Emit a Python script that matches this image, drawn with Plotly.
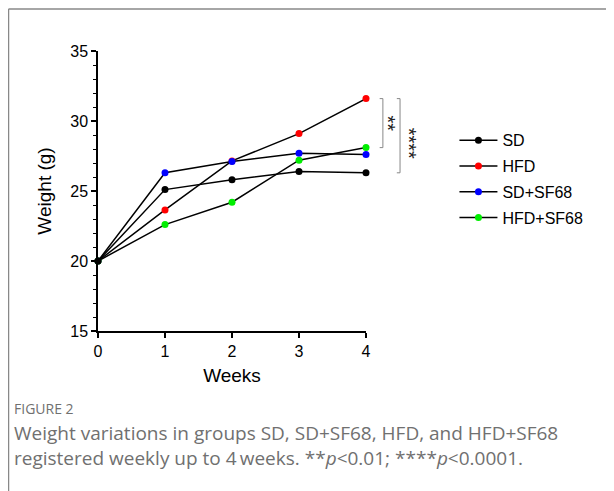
import plotly.graph_objects as go

weeks = [0, 1, 2, 3, 4]
series_names = ["SD", "HFD", "SD+SF68", "HFD+SF68"]
sd = [20, 25.1, 25.8, 26.4, 26.3]
hfd = [20, 23.65, 27.15, 29.1, 31.6]
sd_sf68 = [20, 26.3, 27.1, 27.7, 27.6]
hfd_sf68 = [20, 22.6, 24.2, 27.2, 28.1]
colors = ["#000000", "#ff0000", "#0000ff", "#00ee00"]

y_range = [15, 35]
brackets = [("**", 31.6, 28.1), ("****", 31.6, 26.3)]

W, H = 606, 483
L, T, PW, PH = 90, 43, 268, 280

fig = go.Figure()
data = [sd, hfd, sd_sf68, hfd_sf68]
order = [1, 2, 3, 0]  # draw SD last so the shared start point is black
for i in order:
    fig.add_trace(go.Scatter(
        x=weeks, y=data[i], name=series_names[i], mode="lines+markers",
        line=dict(color="black", width=1.5),
        marker=dict(color=colors[i], size=7),
        legendrank=i + 1, legendgroup=series_names[i],
        cliponaxis=False,
    ))

def px_x(p):
    return (p - L) / PW

def px_y(p):
    return (T + PH - p) / PH

fig.update_layout(
    width=W, height=H,
    margin=dict(l=L, r=W - L - PW, t=T, b=H - T - PH),
    paper_bgcolor="white", plot_bgcolor="white",
    font=dict(family="Liberation Sans, Arial", color="black", size=16),
    showlegend=True,
    legend=dict(x=1.33, y=0.742, xanchor="left", yanchor="top",
                font=dict(size=16), tracegroupgap=2, itemwidth=38,
                bgcolor="rgba(0,0,0,0)"),
    xaxis=dict(range=[0, 4], tickvals=weeks, showline=True, linecolor="black",
               linewidth=1.5, ticks="outside", ticklen=5, tickwidth=1.5,
               tickcolor="black", showgrid=False, zeroline=False,
               title=dict(text="Weeks", standoff=10), tickfont=dict(size=16)),
    yaxis=dict(range=y_range, dtick=5, showline=True, linecolor="black",
               linewidth=1.5, ticks="outside", ticklen=5, tickwidth=1.5,
               tickcolor="black", showgrid=False, zeroline=False,
               minor=dict(dtick=1, ticks="outside", ticklen=3, tickwidth=1,
                          tickcolor="black"),
               title=dict(text="Weight (g)", standoff=14), tickfont=dict(size=16)),
)

def py(v):
    return (v - y_range[0]) / (y_range[1] - y_range[0])

bx = [1.063, 1.127]
tx = [1.129, 1.207]
for (label, top, bot), x0, xt in zip(brackets, bx, tx):
    fig.add_shape(type="path", xref="paper", yref="paper",
                  path=f"M {x0-0.012},{py(top)} L {x0},{py(top)} L {x0},{py(bot)} L {x0-0.012},{py(bot)}",
                  line=dict(color="#888888", width=1))
    fig.add_annotation(xref="paper", yref="paper", x=xt, y=(py(top) + py(bot)) / 2 + 0.036,
                       text=label, textangle=90, showarrow=False,
                       font=dict(size=20, color="#222222"))

# frame lines
fig.add_shape(type="line", xref="paper", yref="paper", x0=px_x(0.5), x1=px_x(W),
              y0=px_y(1), y1=px_y(1), line=dict(color="#888888", width=1.5))
fig.add_shape(type="line", xref="paper", yref="paper", x0=px_x(0.5), x1=px_x(0.5),
              y0=px_y(H), y1=px_y(1), line=dict(color="#888888", width=1.5))

fig.add_annotation(xref="paper", yref="paper", x=px_x(4), y=px_y(400),
                   text="FIGURE 2", showarrow=False, xanchor="left", yanchor="middle",
                   font=dict(family="Open Sans", size=14, color="#707070"))
fig.add_annotation(xref="paper", yref="paper", x=px_x(4), y=px_y(438),
                   text="Weight variations in groups SD, SD+SF68, HFD, and HFD+SF68<br>registered weekly up to 4\u2009weeks. **<i>p</i><0.01; ****<i>p</i><0.0001.",
                   showarrow=False, xanchor="left", yanchor="middle", align="left",
                   font=dict(family="Open Sans", size=19, color="#707070"))

fig.write_html("out.html")
